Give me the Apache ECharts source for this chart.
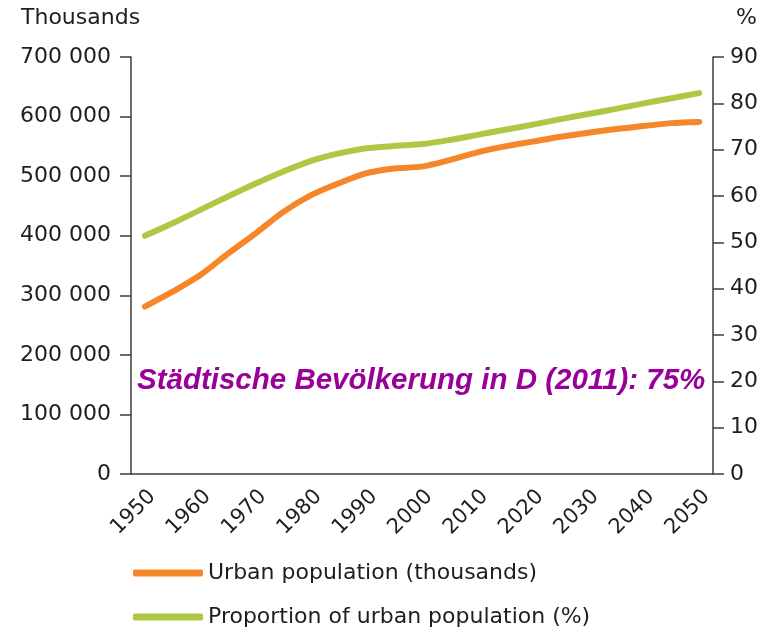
<!DOCTYPE html>
<html>
<head>
<meta charset="utf-8">
<script src="https://cdn.jsdelivr.net/npm/echarts@6/dist/echarts.min.js"></script>
<style>
  html, body { margin: 0; padding: 0; background: #fff; }
  #chart { width: 770px; height: 629px; }
</style>
</head>
<body>
<div id="chart"></div>
<script>
// 5-year steps, labels shown every 10 years
const years = ['1950', '1955', '1960', '1965', '1970', '1975', '1980', '1985', '1990', '1995', '2000',
  '2005', '2010', '2015', '2020', '2025', '2030', '2035', '2040', '2045', '2050']

// urban population, thousands
const urbanPop = [281000, 306000, 334000, 370000, 404000, 440000, 468000, 488000, 505000, 513000, 516000,
  527000, 540000, 550000, 558000, 566000, 573000, 579000, 584000, 589000, 591000]

// proportion urban, %
const urbanShare = [51.4, 54.1, 57.0, 59.9, 62.7, 65.3, 67.6, 69.2, 70.3, 70.8, 71.2,
  72.1, 73.2, 74.3, 75.4, 76.6, 77.7, 78.8, 80.0, 81.1, 82.2]

const seriesNames = ['Urban population (thousands)', 'Proportion of urban population (%)']

const textColor = '#1e1e1e'
const axisColor = '#3c3c3c'
const font = 'DejaVu Sans, Verdana, sans-serif'

const chart = echarts.init(document.getElementById('chart'))

const axisCommon = {
  axisLine: { show: true, lineStyle: { color: axisColor, width: 1.5 } },
  axisTick: { show: true, length: 11, lineStyle: { color: axisColor, width: 1.5 } },
  splitLine: { show: false },
  axisLabel: { color: textColor, fontSize: 22, fontFamily: font }
}

// one legend per entry so they stack
const legendFor = (name, top) => ({
  left: 128,
  top: top,
  itemWidth: 70,
  itemHeight: 7,
  icon: 'roundRect',
  textStyle: { color: textColor, fontSize: 22, fontFamily: font },
  data: [name]
})

chart.setOption({
  animation: false,
  grid: { left: 131, right: 57, top: 57, bottom: 155 },
  legend: [legendFor(seriesNames[0], 557), legendFor(seriesNames[1], 601)],
  xAxis: {
    type: 'category',
    data: years,
    boundaryGap: true,
    axisLine: { lineStyle: { color: axisColor, width: 1.5 } },
    axisTick: { interval: 0, length: 8, lineStyle: { color: axisColor, width: 1.5 } },
    axisLabel: {
      interval: 1, rotate: 45, margin: 12, verticalAlign: 'top',
      color: textColor, fontSize: 21, fontFamily: font
    }
  },
  yAxis: [
    {
      ...axisCommon,
      type: 'value',
      min: 0,
      max: 700000,
      interval: 100000,
      axisLabel: {
        ...axisCommon.axisLabel,
        margin: 20,
        formatter: v => String(v).replace(/\B(?=(\d{3})+(?!\d))/g, ' ')
      }
    },
    {
      ...axisCommon,
      type: 'value',
      position: 'right',
      min: 0,
      max: 90,
      interval: 10,
      axisLabel: { ...axisCommon.axisLabel, margin: 17 }
    }
  ],
  graphic: [
    { type: 'text', left: 21, top: 7, style: { text: 'Thousands', fill: textColor, font: '22px ' + font } },
    { type: 'text', left: 736, top: 7, style: { text: '%', fill: textColor, font: '22px ' + font } },
    {
      type: 'text', left: 137, top: 366,
      style: {
        text: 'Städtische Bevölkerung in D (2011): 75%',
        fill: '#990099',
        font: 'italic bold 29.5px "Liberation Sans", Arial, sans-serif'
      }
    }
  ],
  series: [
    {
      name: seriesNames[0],
      type: 'line',
      yAxisIndex: 0,
      data: urbanPop,
      smooth: 0.3,
      symbol: 'none',
      itemStyle: { color: '#f6862a' },
      lineStyle: { color: '#f6862a', width: 6, cap: 'round', join: 'round' }
    },
    {
      name: seriesNames[1],
      type: 'line',
      yAxisIndex: 1,
      data: urbanShare,
      smooth: 0.3,
      symbol: 'none',
      itemStyle: { color: '#adc842' },
      lineStyle: { color: '#adc842', width: 6, cap: 'round', join: 'round' }
    }
  ]
})
</script>
</body>
</html>
